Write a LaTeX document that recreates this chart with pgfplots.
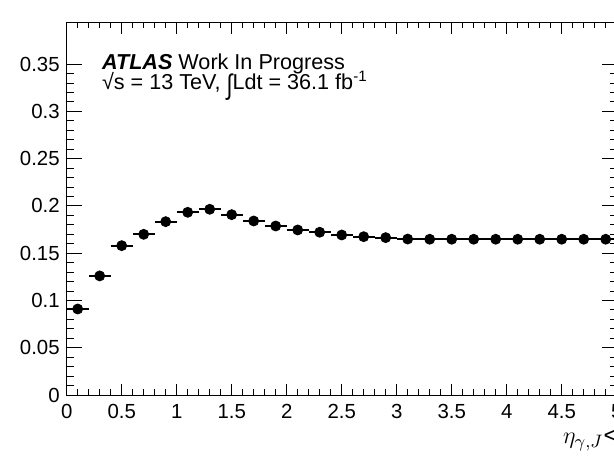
\documentclass[border=0pt]{standalone}
\usepackage{fontspec}
\setmainfont{Liberation Sans}
\usepackage{graphicx}
\usepackage{pgfplots}
\pgfplotsset{compat=1.18}
\usepackage{pgfplotstable}
\pgfplotstableread{
x y ex
0.1 0.091 0.1
0.3 0.126 0.1
0.5 0.158 0.1
0.7 0.170 0.1
0.9 0.1834 0.1
1.1 0.1933 0.1
1.3 0.1965 0.1
1.5 0.1908 0.1
1.7 0.1841 0.1
1.9 0.1788 0.1
2.1 0.1746 0.1
2.3 0.1722 0.1
2.5 0.1693 0.1
2.7 0.1675 0.1
2.9 0.1665 0.1
3.1 0.1650 0.1
3.3 0.1648 0.1
3.5 0.1648 0.1
3.7 0.1648 0.1
3.9 0.1648 0.1
4.1 0.1648 0.1
4.3 0.1648 0.1
4.5 0.1648 0.1
4.7 0.1648 0.1
4.9 0.1648 0.1
}\datatable
\begin{document}
\begin{tikzpicture}
\begin{axis}[
  name=ax,
  scale only axis,
  width=275pt, height=186.2pt,
  xmin=0, xmax=5, ymin=0, ymax=0.394,
  xtick={0,0.5,1,1.5,2,2.5,3,3.5,4,4.5,5},
  ytick={0,0.05,0.1,0.15,0.2,0.25,0.3,0.35},
  minor x tick num=4, minor y tick num=4,
  tick align=inside,
  axis line style={line width=0.5pt},
  every tick/.style={black, line width=0.5pt},
  xtick style={/pgfplots/major tick length=5.5pt, /pgfplots/minor tick length=2.8pt},
  ytick style={/pgfplots/major tick length=7.5pt, /pgfplots/minor tick length=3.5pt},
  ticklabel style={font=\fontsize{10.2}{12}\selectfont},
  /pgf/number format/assume math mode=true,
  /pgf/number format/fixed,
  /pgf/number format/precision=2,
  xticklabel style={yshift=-1pt},
]
\addplot[only marks, mark=*, mark size=2.5pt, black,
  error bars/.cd, x dir=both, x explicit, error mark=none,
  error bar style={line width=1pt}]
  table[x=x, y=y, x error=ex]{\datatable};
\end{axis}
\node[anchor=base west, inner sep=0, font=\fontsize{10.8}{13}\selectfont]
  at ([shift={(17.5pt,-23.2pt)}]ax.north west) {\textbf{\textit{ATLAS}} Work In Progress};
\node[anchor=base west, inner sep=0, font=\fontsize{10.8}{13}\selectfont]
  at ([shift={(17.5pt,-33.65pt)}]ax.north west) {√s = 13 TeV, \raisebox{-2.2pt}{\scalebox{1}[1.3]{∫}}Ldt = 36.1 fb\textsuperscript{-1}};
\node[anchor=base west, inner sep=0, font=\fontsize{12.5}{14}\selectfont]
  at ([shift={(248pt,-24pt)}]ax.south west) {$\eta_{\gamma,J}$};
\node[anchor=base west, inner sep=0, font=\fontsize{12}{14}\selectfont]
  at ([shift={(268.3pt,-24pt)}]ax.south west) {<};
\pgfresetboundingbox
\path[use as bounding box] ([shift={(-33.35pt,-32.5pt)}]ax.south west) rectangle ++(307pt,230pt);
\end{tikzpicture}
\end{document}
